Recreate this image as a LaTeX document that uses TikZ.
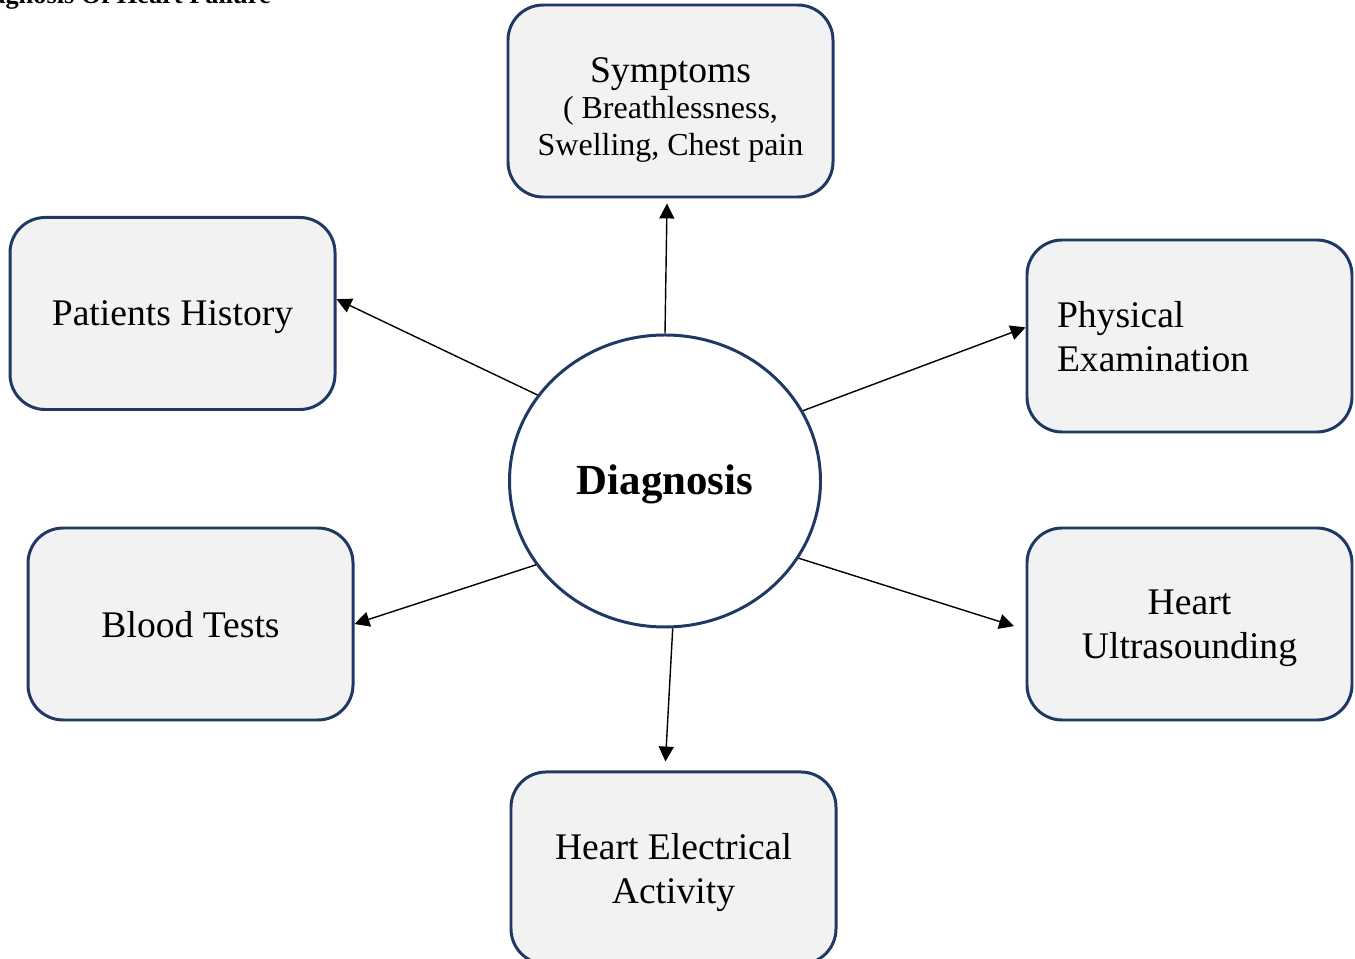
\documentclass[tikz,border=0pt]{standalone}
\usepackage{fontspec}
\setmainfont{Liberation Serif}
\usetikzlibrary{shapes.geometric, arrows.meta, positioning}
\definecolor{boxline}{HTML}{1F3864}
\definecolor{boxfill}{HTML}{F2F2F2}

\begin{document}
\begin{tikzpicture}[
    box/.style={rectangle, draw=boxline, fill=boxfill, line width=1.7pt, rounded corners=20pt, minimum width=6.5cm, minimum height=3.84cm, align=center, text depth=0pt, font=\fontsize{21.4}{25}\selectfont},
    hub/.style={ellipse, draw=boxline, fill=white, line width=1.7pt, minimum width=6.22cm, minimum height=5.84cm, text height=15.9pt, text depth=0pt, font=\fontsize{24.4}{28}\selectfont\bfseries},
    arrow/.style={-{Triangle[length=8.5pt,width=8.5pt]}, line width=0.8pt, draw=black}
]
    \useasboundingbox (0,0) rectangle (27.1,-19.18);
    \clip (0,0) rectangle (27.1,-19.18);
    \node[anchor=base east, font=\fontsize{15}{18}\selectfont\bfseries] (title) at (5.54,-0.08) {Diagnosis Of Heart Failure};

    \node[hub] (diag) at (13.3,-9.62) {Diagnosis};
    \node[box, above=2.7cm of diag, xshift=0.11cm, text height=64pt, text depth=2pt, font=\fontsize{21.4}{20.9}\selectfont] (symp) {Symptoms\\ {\fontsize{18.2}{20.9}\selectfont ( Breathlessness,}\\ {\fontsize{18.2}{20.9}\selectfont Swelling, Chest pain}};
    \node[box, left=3.43cm of diag, yshift=3.35cm] (hist) {Patients History};
    \node[box, right=4.07cm of diag, yshift=2.9cm, text width=5.3cm, align=left, text depth=25pt] (phys) {Physical\\ Examination};
    \node[box, left=3.07cm of diag, yshift=-2.86cm] (blood) {Blood Tests};
    \node[box, right=4.07cm of diag, yshift=-2.86cm] (ultra) {Heart\\ Ultrasounding};
    \node[box, below=2.84cm of diag, xshift=0.17cm] (elec) {Heart Electrical\\ Activity};

    \draw[arrow, shorten >=0.1cm] (diag.north) -- (symp.268);
    \draw[arrow] (diag.146) -- (hist.5);
    \draw[arrow] (diag.27) -- (phys.177);
    \draw[arrow] (diag.213) -- (blood.east);
    \draw[arrow, shorten >=0.24cm] (diag.330) -- (ultra.182);
    \draw[arrow, shorten >=0.18cm] (diag.273) -- (elec.95);
\end{tikzpicture}
\end{document}
